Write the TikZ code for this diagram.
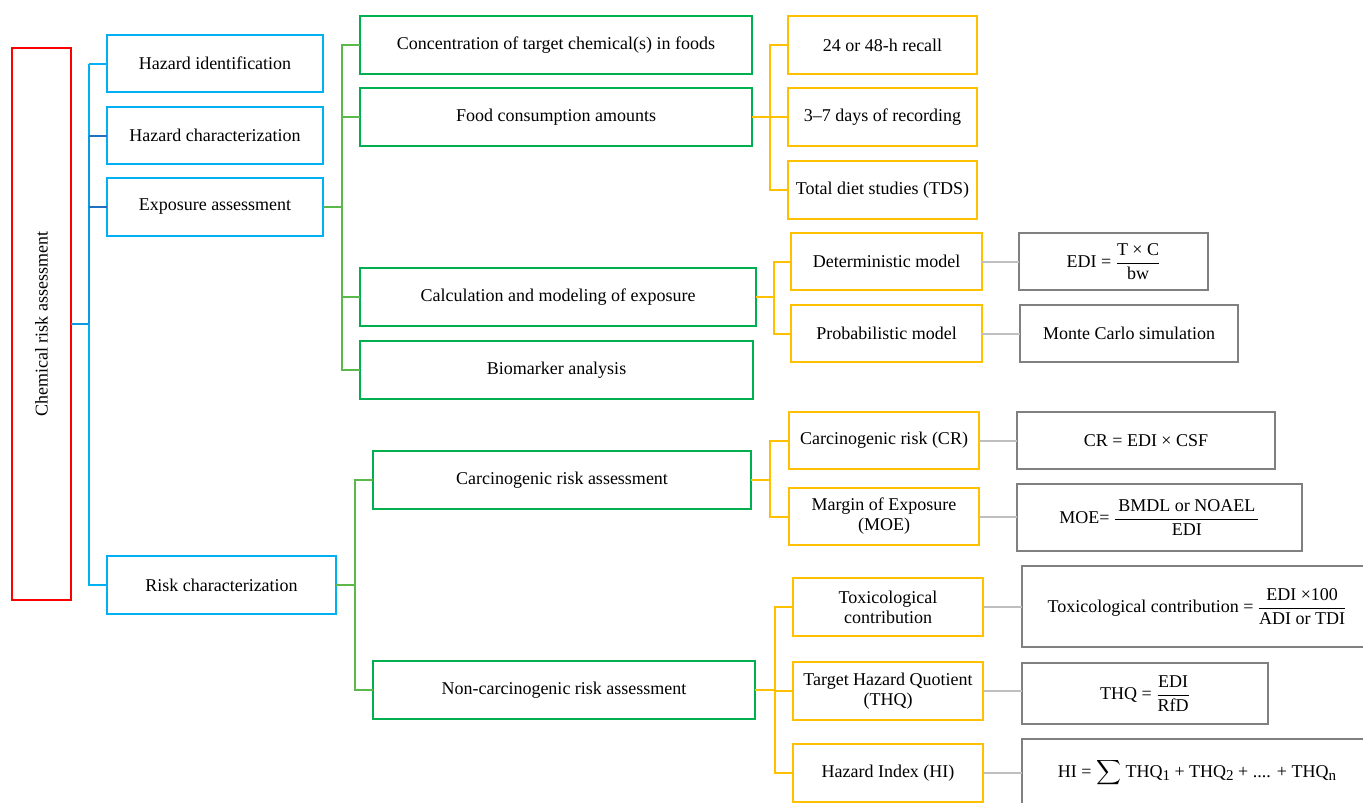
\documentclass[tikz,border=0pt]{standalone}
\usepackage{exscale}
\usepackage{fontspec}
\setmainfont{Liberation Serif}
\definecolor{cred}{HTML}{FF0000}
\definecolor{cblue}{HTML}{00B0F0}
\definecolor{cdblue}{HTML}{1F70C1}
\definecolor{cmblue}{HTML}{0A9BE0}
\definecolor{cgreen}{HTML}{00B050}
\definecolor{cgline}{HTML}{5BB84B}
\definecolor{corange}{HTML}{FFC000}
\definecolor{cgray}{HTML}{808080}
\definecolor{clgray}{HTML}{BFBFBF}
\newcommand{\subn}[1]{\raisebox{-0.4ex}{\fontsize{15}{15}\selectfont #1}}
\begin{document}
\begin{tikzpicture}[x=1pt,y=-1pt,
  every node/.style={font=\fontsize{18}{20}\selectfont, align=center, inner sep=0pt, outer sep=0pt, line width=2pt},
  redbox/.style={draw=cred},
  bluebox/.style={draw=cblue},
  greenbox/.style={draw=cgreen},
  orangebox/.style={draw=corange},
  graybox/.style={draw=cgray},
  bline/.style={draw=cblue, line width=2pt},
  bdark/.style={draw=cdblue, line width=2pt},
  bmid/.style={draw=cmblue, line width=2.5pt},
  gline/.style={draw=cgline, line width=2pt},
  oline/.style={draw=corange, line width=2pt},
  grline/.style={draw=clgray, line width=2pt}]
\clip (0,0) rectangle (1363,803);
\fill[white] (0,0) rectangle (1363,803);

% root
\node[redbox, minimum width=59pt, minimum height=552pt] (root) at (41.5,324) {\rotatebox{90}{Chemical risk assessment}};

% level 1
\node[bluebox, minimum width=216pt, minimum height=57pt] (hi) at (215,63.5) {Hazard identification};
\node[bluebox, minimum width=216pt, minimum height=57pt] (hc) at (215,135.5) {Hazard characterization};
\node[bluebox, minimum width=216pt, minimum height=58pt] (ea) at (215,207) {Exposure assessment};
\node[bluebox, minimum width=229pt, minimum height=58pt] (rc) at (221.5,585) {Risk characterization};

% level 2
\node[greenbox, minimum width=392pt, minimum height=58pt] (conc) at (556,45) {Concentration of target chemical(s) in foods};
\node[greenbox, minimum width=392pt, minimum height=58pt] (food) at (556,117) {Food consumption amounts};
\node[greenbox, minimum width=396pt, minimum height=58pt] (calc) at (558,297) {Calculation and modeling of exposure};
\node[greenbox, minimum width=393pt, minimum height=58pt] (bio) at (556.5,370) {Biomarker analysis};
\node[greenbox, minimum width=378pt, minimum height=58pt] (carc) at (562,480) {Carcinogenic risk assessment};
\node[greenbox, minimum width=382pt, minimum height=58pt] (nonc) at (564,690) {Non-carcinogenic risk assessment};

% level 3
\node[orangebox, minimum width=189pt, minimum height=58pt] (recall) at (882.5,45) {24 or 48-h recall};
\node[orangebox, minimum width=189pt, minimum height=58pt] (days) at (882.5,117) {3–7 days of recording};
\node[orangebox, minimum width=189pt, minimum height=58pt] (tds) at (882.5,190) {Total diet studies (TDS)};
\node[orangebox, minimum width=191pt, minimum height=57pt] (det) at (886.5,261.5) {Deterministic model};
\node[orangebox, minimum width=191pt, minimum height=57pt] (prob) at (886.5,333.5) {Probabilistic model};
\node[orangebox, minimum width=190pt, minimum height=57pt] (cr) at (884,440.5) {Carcinogenic risk (CR)};
\node[orangebox, minimum width=190pt, minimum height=57pt] (moe) at (884,516.5) {Margin of Exposure\\(MOE)};
\node[orangebox, minimum width=190pt, minimum height=58pt] (tox) at (888,607) {Toxicological\\contribution};
\node[orangebox, minimum width=190pt, minimum height=58pt] (thq) at (888,691) {Target Hazard Quotient\\(THQ)};
\node[orangebox, minimum width=190pt, minimum height=58pt] (hidx) at (888,773) {Hazard Index (HI)};

% level 4 (formulas)
\node[graybox, minimum width=189pt, minimum height=57pt] (edi) at (1113.5,261.5) {EDI = $\displaystyle\frac{\mbox{T × C}}{\mbox{bw}}$};
\node[graybox, minimum width=218pt, minimum height=57pt] (mc) at (1129,333.5) {Monte Carlo simulation};
\node[graybox, minimum width=258pt, minimum height=57pt] (crf) at (1146,440.5) {CR = EDI × CSF};
\node[graybox, minimum width=285pt, minimum height=67pt] (moef) at (1159.5,517.5) {MOE= $\displaystyle\frac{\mbox{\,BMDL or NOAEL\,}}{\mbox{EDI}}$};
\node[graybox, minimum width=350pt, minimum height=81pt] (toxf) at (1197,606.5) {Toxicological contribution = $\displaystyle\frac{\mbox{EDI ×100}}{\mbox{ADI or TDI}}$};
\node[graybox, minimum width=246pt, minimum height=61pt] (thqf) at (1145,693.5) {THQ = $\displaystyle\frac{\mbox{EDI}}{\mbox{RfD}}$};
\node[graybox, minimum width=350pt, minimum height=68pt] (hif) at (1197,773) {HI = $\displaystyle\sum$ THQ\subn{1} + THQ\subn{2} + .... + THQ\subn{n}};

% blue connectors
\path (root.east) ++(18,0) coordinate (bb);
\draw[bline] (bb |- hi.west) -- (hi.west);
\draw[bline] (bb |- hi.west) -- (bb |- rc.west) -- (rc.west);
\draw[bmid] (bb |- hc.west) -- (bb);
\draw[bmid] (root.east) -- (bb);
\draw[bdark] (bb |- hc.west) -- (hc.west);
\draw[bdark] (bb |- ea.west) -- (ea.west);

% green connectors
\foreach \c in {conc,food,calc,bio} \draw[gline] (ea.east) -- ++(19,0) |- (\c.west);
\foreach \c in {carc,nonc} \draw[gline] (rc.east) -- ++(19,0) |- (\c.west);

% orange connectors
\foreach \c in {recall,days,tds} \draw[oline] (food.east) -- ++(18,0) |- (\c.west);
\foreach \c in {det,prob} \draw[oline] (calc.east) -- ++(18,0) |- (\c.west);
\foreach \c in {cr,moe} \draw[oline] (carc.east) -- ++(19,0) |- (\c.west);
\foreach \c in {tox,thq,hidx} \draw[oline] (nonc.east) -- ++(20,0) |- (\c.west);

% gray connectors
\draw[grline] (det.east) -- (edi.west);
\draw[grline] (prob.east) -- (mc.west);
\draw[grline] (cr.east) -- (crf.west);
\draw[grline] (moe.east) -- (moe.east -| moef.west);
\draw[grline] (tox.east) -- (tox.east -| toxf.west);
\draw[grline] (thq.east) -- (thq.east -| thqf.west);
\draw[grline] (hidx.east) -- (hidx.east -| hif.west);
\end{tikzpicture}
\end{document}
